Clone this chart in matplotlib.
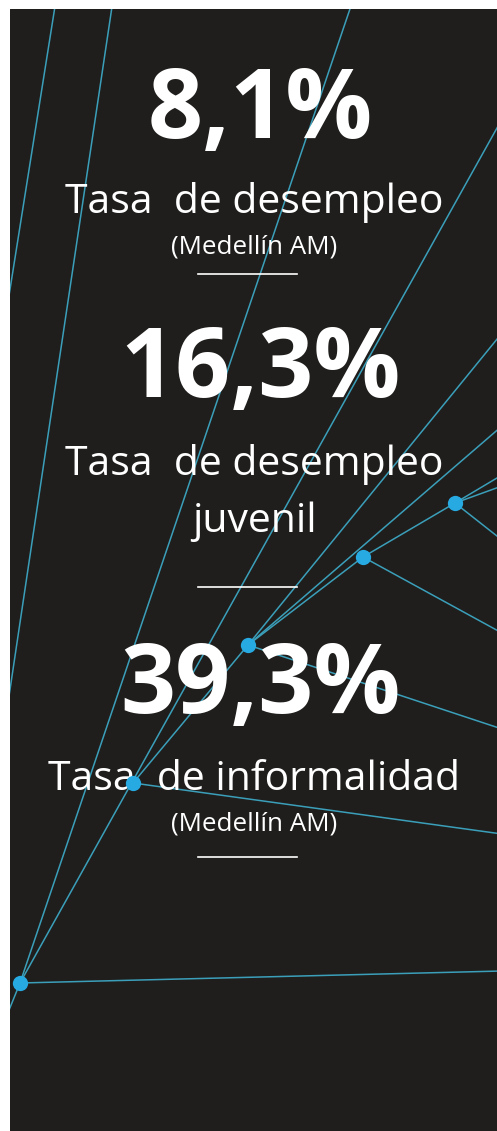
import matplotlib
matplotlib.use('agg')
import matplotlib.pyplot as plt

# cifras del panel
valores = ["8,1%", "16,3%", "39,3%"]
titulos = ["Tasa  de desempleo", "Tasa  de desempleo\njuvenil", "Tasa  de informalidad"]
notas = ["(Medellín AM)", "", "(Medellín AM)"]

# red decorativa de fondo (nodos y segmentos, en pixeles)
nodos = {
    "A": (20, 983), "B": (133, 783), "C": (248, 645),
    "D1": (363, 557), "D2": (455, 503),
}
bordes = {
    "t1": (56, 0), "l1": (8, 302), "t2": (113, 0), "l2": (8, 703),
    "t3": (353, 0), "r1": (502, 119), "r2": (502, 971), "l3": (5, 1020),
    "r3": (502, 834), "r4": (502, 333), "r5": (502, 426), "r6": (502, 729),
    "r7": (502, 633), "r8": (502, 475), "r9": (502, 486), "r10": (502, 540),
}
segmentos = [("t1", "l1"), ("t2", "l2"), ("A", "t3"), ("A", "r1"), ("A", "r2"),
             ("A", "l3"), ("B", "C"), ("B", "r3"), ("C", "r4"), ("C", "r5"),
             ("C", "D1"), ("C", "r6"), ("D1", "D2"), ("D1", "r7"), ("D2", "r8"),
             ("D2", "r9"), ("D2", "r10")]

W, H = 497, 1131
fig = plt.figure(figsize=(W / 100, H / 100), dpi=100)
fig.patch.set_facecolor('white')
ax = fig.add_axes([10 / W, 0, 1 - 10 / W, 1 - 9 / H])
ax.set_facecolor('#1f1e1c')
ax.set_xlim(10, W)
ax.set_ylim(H, 9)
ax.axis('off')
ax.add_patch(plt.Rectangle((10, 9), W, H, color='#1f1e1c', zorder=0))

pts = {**nodos, **bordes}
for a, b in segmentos:
    (x0, y0), (x1, y1) = pts[a], pts[b]
    ax.plot([x0, x1], [y0, y1], color='#3b9fba', lw=1.1, zorder=1)
# los nodos quedan encima del texto
for k, (x, y) in nodos.items():
    ax.plot(x, y, 'o', color='#27a9e1', ms=11, mec='none', zorder=4)

fam = ['Open Sans', 'DejaVu Sans']
# posiciones verticales de cada bloque
y_valor = [138, 397, 713]
y_titulo = [213, 475, 790]
y_nota = [253, 0, 831]
y_raya = [274, 587, 857]

for i in range(3):
    ax.text(260, y_valor[i], valores[i], color='white', fontsize=69.5,
            fontweight='bold', family=fam, ha='center', va='baseline', zorder=3)
    lineas = titulos[i].split('\n')
    for j, t in enumerate(lineas):
        ax.text(254, y_titulo[i] + j * 57, t, color='white', fontsize=29.4,
                family=fam, ha='center', va='baseline', zorder=3)
    if notas[i]:
        ax.text(254, y_nota[i], notas[i], color='white', fontsize=18.7,
                family=fam, ha='center', va='baseline', zorder=3)
    ax.plot([198, 297], [y_raya[i], y_raya[i]], color='white', lw=1.2, zorder=3)

fig.savefig('out.png', dpi=100, facecolor=fig.get_facecolor())
